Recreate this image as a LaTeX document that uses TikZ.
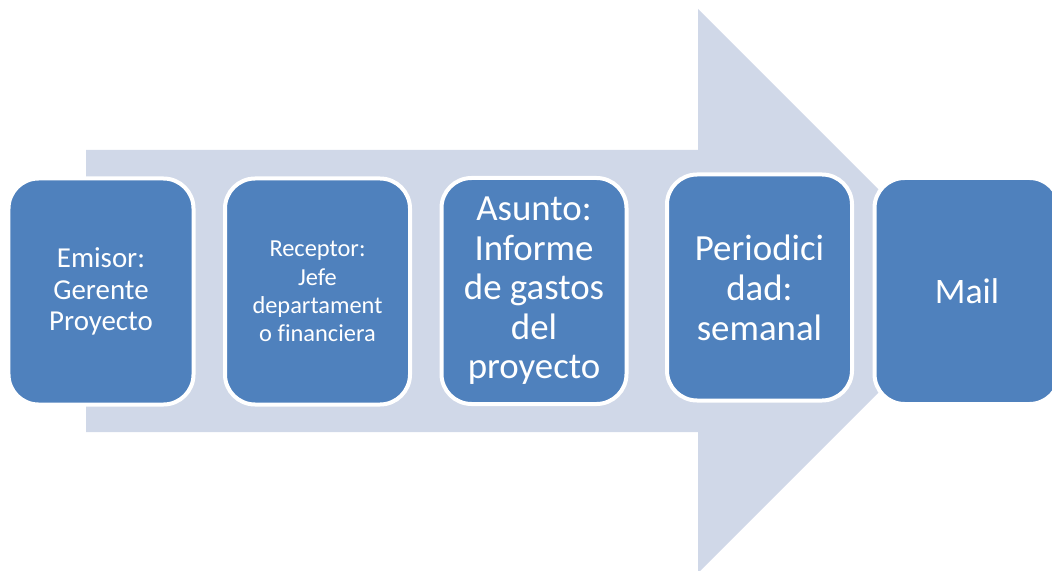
\documentclass[tikz,border=0pt]{standalone}
\usepackage{fontspec}
\setmainfont[Ligatures=NoCommon]{Carlito}
\usepackage{tikz}
\usetikzlibrary{positioning}
\definecolor{flecha}{RGB}{208,216,232}
\definecolor{caja}{RGB}{79,129,189}
\tikzset{
    paso/.style={rectangle,rounded corners=30bp,fill=caja,draw=white,line width=4bp,
        minimum width=185bp,minimum height=226bp,inner sep=0pt,text=white,align=center},
    letra/.style 2 args={font=\fontsize{#1}{#2}\selectfont}
}

\begin{document}
\begin{tikzpicture}[x=1bp,y=-1bp]
        \useasboundingbox (0,0) rectangle (1052,571);

        \fill[flecha] (86,150) -- (698,150) -- (698,9) -- (980,291)
            -- (698,573) -- (698,432) -- (86,432) -- cycle;

        \node[paso,letra={29}{31.7}] (emisor) at (101,291.5) {Emisor:\\Gerente\\Proyecto};
        \node[paso,letra={24.5}{28.5}] (receptor) at (317.5,291.5) {Receptor:\\Jefe\\departament\\o financiera};
        \node[paso,letra={37}{39.7}] (asunto) at (534,291) {Asunto:\\Informe\\de gastos\\del\\proyecto};
        \node[paso,letra={37}{40}] (periodo) at (759.5,287.5) {Periodici\\dad:\\semanal};
        \node[paso,letra={36}{40}] (medio) at (967,291) {Mail};
    \end{tikzpicture}
\end{document}
